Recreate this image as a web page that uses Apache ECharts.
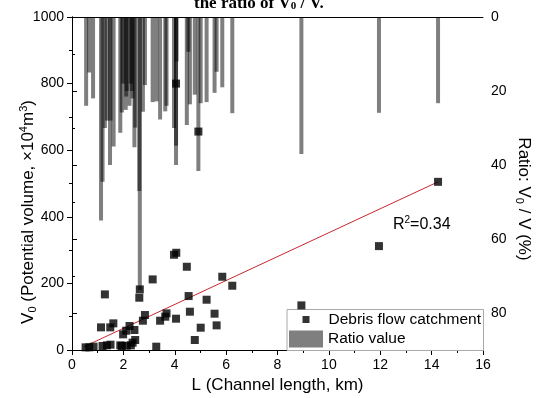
<!DOCTYPE html>
<html><head><meta charset="utf-8">
<script src="https://cdn.jsdelivr.net/npm/echarts@6/dist/echarts.min.js"></script>
<style>html,body{margin:0;padding:0;background:#fff}#c{width:536px;height:398px}</style>
</head><body><div id="c"></div>
<script>
// Debris flow catchments: channel length L (km) and potential volume V0 (x10^4 m^3)
const catchL = [0.53,0.67,0.84,1.19,1.36,1.50,1.88,1.94,2.13,2.29,2.36,2.46,
  1.13,1.49,1.61,1.99,2.11,2.24,2.43,2.76,2.84,
  1.28,2.62,2.64,3.14,3.28,3.43,3.63,3.68,4.05,3.97,4.06,4.47,4.54,4.59,4.78,5.01,5.24,5.55,5.63,5.85,6.24,8.93,11.95,14.25,4.05,4.92];
const catchV = [8,8,10,12,14,16,14,12,13,14,22,30,
  68,68,80,47,58,72,60,88,105,
  167,157,182,212,10,88,100,110,94,286,292,250,162,115,30,67,151,109,74,220,193,134,312,505,800,656];
// Ratio V0/V (%) bars
const ratioL = [0.55,0.67,0.82,1.13,1.19,1.28,1.36,1.48,1.50,1.62,1.88,1.94,1.99,2.09,2.11,2.13,2.24,2.29,2.33,2.36,2.43,2.46,2.62,2.64,2.76,2.84,3.14,3.29,3.43,3.63,3.68,3.97,4.05,4.05,4.07,4.47,4.53,4.59,4.78,4.92,5.01,5.24,5.55,5.63,5.85,6.24,8.93,11.95,14.25];
const ratioVal = [24,15,22,55,44.5,30,28,40,28,35,31.3,25.8,18,25.1,21.5,20,24,18,20,22,35.2,29.9,47,73.8,25.6,18.4,23,22.8,27.7,25.5,24,30,34.8,40,12,29.2,9.4,23.6,21,41.6,23.3,23,20.5,14.8,19,26,37,25.9,23.3];
// Linear fit end points
const fitL = [0.47, 14.25];
const fitV = [10, 505];
const rSquared = '0.34';

const FONT = 'Liberation Sans, Arial, sans-serif';
const chart = echarts.init(document.getElementById('c'), null, {renderer: 'canvas'});
const axisCommon = {
  axisLine: {show: true, lineStyle: {color: '#000', width: 1}},
  axisTick: {show: true, inside: false, length: 5, lineStyle: {color: '#000'}},
  minorTick: {show: true, splitNumber: 2, length: 3, lineStyle: {color: '#000'}},
  splitLine: {show: false},
  axisLabel: {color: '#000', fontSize: 14, fontFamily: FONT, formatter: v => String(v)}
};
const nameRich = {
  a: {fontSize: 17, fontFamily: FONT, fill: '#000', lineHeight: 20},
  s: {fontSize: 11, fontFamily: FONT, fill: '#000', verticalAlign: 'bottom', lineHeight: 12},
  p: {fontSize: 11, fontFamily: FONT, fill: '#000', verticalAlign: 'top', lineHeight: 12}
};
chart.setOption({
  animation: false,
  backgroundColor: '#fff',
  grid: {left: 72, right: 53, top: 17, bottom: 48, outerBoundsMode: 'none', containLabel: false},
  xAxis: [
    Object.assign({}, axisCommon, {type: 'value', min: 0, max: 16, interval: 2, position: 'bottom',
      name: 'L (Channel length, km)', nameLocation: 'middle', nameGap: 27, nameMoveOverlap: false,
      nameTextStyle: {fontSize: 17, fontFamily: FONT, color: '#000'}}),
    {type: 'value', min: 0, max: 16, position: 'top', axisLine: {show: true, lineStyle: {color: '#000'}},
      axisTick: {show: false}, axisLabel: {show: false}, splitLine: {show: false}}
  ],
  yAxis: [
    Object.assign({}, axisCommon, {type: 'value', min: 0, max: 1000, interval: 200, position: 'left'}),
    Object.assign({}, axisCommon, {type: 'value', min: 0, max: 90, interval: 20, position: 'right', inverse: true,
      axisLabel: {color: '#000', fontSize: 14, fontFamily: FONT, showMaxLabel: false,
        formatter: v => (v % 20 === 0 ? String(v) : '')}})
  ],
  legend: [
    {data: ['Debris flow catchment'], left: 302.5, top: 311.5, padding: 0, itemWidth: 7, itemHeight: 7, icon: 'rect', z: 20,
      textStyle: {fontSize: 15.5, fontFamily: FONT, color: '#000', padding: [0, 0, 0, 14]}},
    {data: ['Ratio value'], left: 289, top: 330.5, padding: 0, itemWidth: 34, itemHeight: 17, icon: 'rect', z: 20,
      textStyle: {fontSize: 15.5, fontFamily: FONT, color: '#000'}}
  ],
  graphic: [
    {type: 'rect', left: 286.5, top: 309, shape: {width: 196.5, height: 41}, z: 1,
      style: {fill: '#fff', stroke: '#aaa', lineWidth: 1}},
    {type: 'text', x: 28, y: 212, rotation: Math.PI / 2, z: 10, style: {
      text: '{a|V}{s|0}{a| (Potential volume, ×10}{p|4}{a|m}{p|3}{a|)}',
      align: 'center', verticalAlign: 'middle', rich: nameRich}},
    {type: 'text', x: 524, y: 199, rotation: -Math.PI / 2, z: 10, style: {
      text: '{a|Ratio: V}{s|0}{a| / V (%)}',
      align: 'center', verticalAlign: 'middle', rich: nameRich}},
    {type: 'text', left: 393, top: 215, z: 10, style: {
      text: '{a|R}{p|2}{a|=' + rSquared + '}',
      rich: {a: {fontSize: 16, fontFamily: FONT, fill: '#000', lineHeight: 20},
             p: {fontSize: 10, fontFamily: FONT, fill: '#000', verticalAlign: 'top', lineHeight: 12}}}},
    {type: 'text', left: 194, top: -5, z: 10, style: {
      text: 'the ratio of V{s|0} / V.',
      font: 'bold 17px "Liberation Serif", "Times New Roman", serif', fill: '#000',
      rich: {s: {font: 'bold 11px "Liberation Serif", serif', fill: '#000', verticalAlign: 'bottom', lineHeight: 10}}}}
  ],
  series: [
    {name: 'Ratio value', type: 'bar', xAxisIndex: 0, yAxisIndex: 1, barWidth: 4, z: 2,
      itemStyle: {color: 'rgba(0,0,0,0.5)'},
      data: ratioL.map((l, i) => [l, ratioVal[i]])},
    {name: 'fit', type: 'line', xAxisIndex: 0, yAxisIndex: 0, symbol: 'none', z: 3,
      lineStyle: {color: '#c8282d', width: 1}, data: fitL.map((l, i) => [l, fitV[i]])},
    {name: 'Debris flow catchment', type: 'scatter', xAxisIndex: 0, yAxisIndex: 0, symbol: 'rect', symbolSize: 8, z: 4,
      itemStyle: {color: '#000'}, data: catchL.map((l, i) => [l, catchV[i]])}
  ]
});
</script></body></html>
